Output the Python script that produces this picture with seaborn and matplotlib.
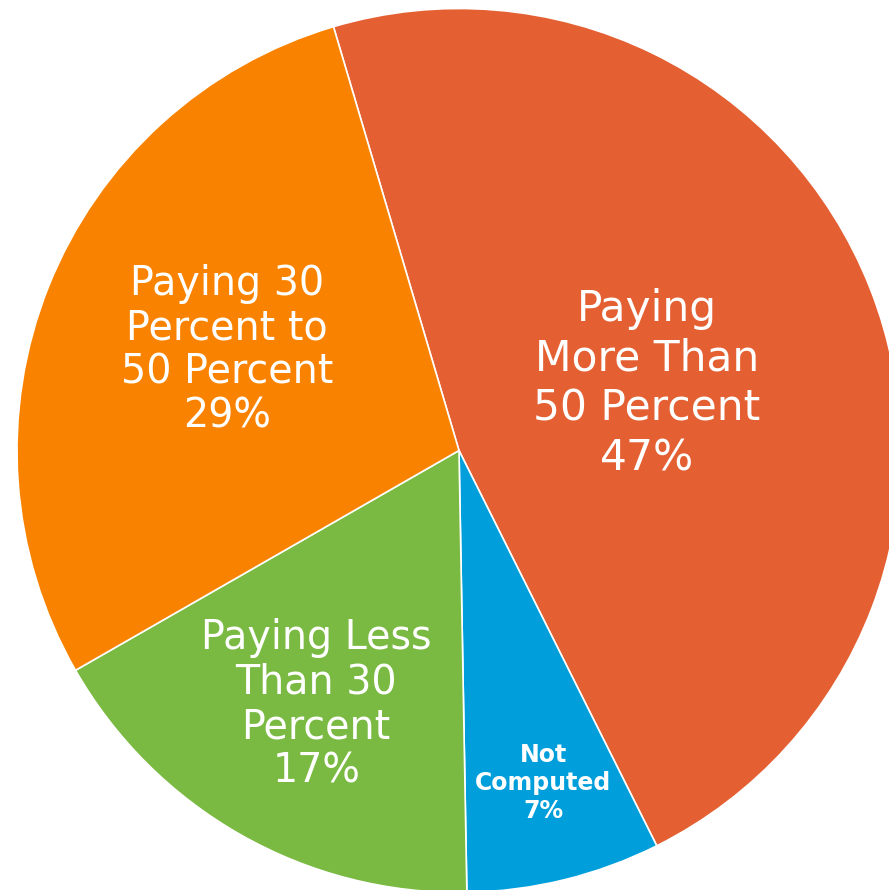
import numpy as np
import matplotlib.pyplot as plt
import seaborn as sns

# ----------------------------
# Data
# ----------------------------

labels = [
    "Paying\nMore Than\n50 Percent",
    "Not\nComputed",
    "Paying Less\nThan 30\nPercent",
    "Paying 30\nPercent to\n50 Percent",
]
# wedge sizes (labels show them rounded)
shares = [47.2, 7.1, 17.0, 28.7]
colors = ["#E46033", "#009FDB", "#7ABA43", "#F98300"]

# label placement (fraction of radius, angle in degrees) and style
label_radius = [0.451, 0.776, 0.660, 0.572]
label_angle = [19.5, -75.8, -119.3, 156.6]
label_size = [30.5, 17, 28.5, 28.5]
label_weight = ["normal", "bold", "normal", "normal"]
label_spacing = [1.24, 1.23, 1.14, 1.13]

sns.set_theme(style="white")
plt.rcParams["font.family"] = ["DejaVu Sans"]

fig = plt.figure(figsize=(8.89, 8.90), dpi=100)
ax = fig.add_axes([0, 0, 1, 1])

R = 442.0
cx, cy = 459.0, 450.5

wedges, _ = ax.pie(
    shares,
    colors=colors,
    startangle=106.5,
    counterclock=False,
    radius=1.0,
    wedgeprops=dict(edgecolor="white", linewidth=1.2),
)

for lab, val, rr, ang, fs, fw, ls in zip(labels, shares, label_radius, label_angle,
                                         label_size, label_weight, label_spacing):
    a = np.deg2rad(ang)
    ax.text(
        rr * np.cos(a), rr * np.sin(a),
        f"{lab}\n{round(val)}%",
        ha="center", va="center",
        color="white", fontsize=fs, fontweight=fw,
        linespacing=ls,
    )

ax.set_xlim(-cx / R, (889 - cx) / R)
ax.set_ylim(-(890 - cy) / R, cy / R)
ax.set_aspect("equal")
ax.axis("off")

plt.savefig("out.png", dpi=100)
